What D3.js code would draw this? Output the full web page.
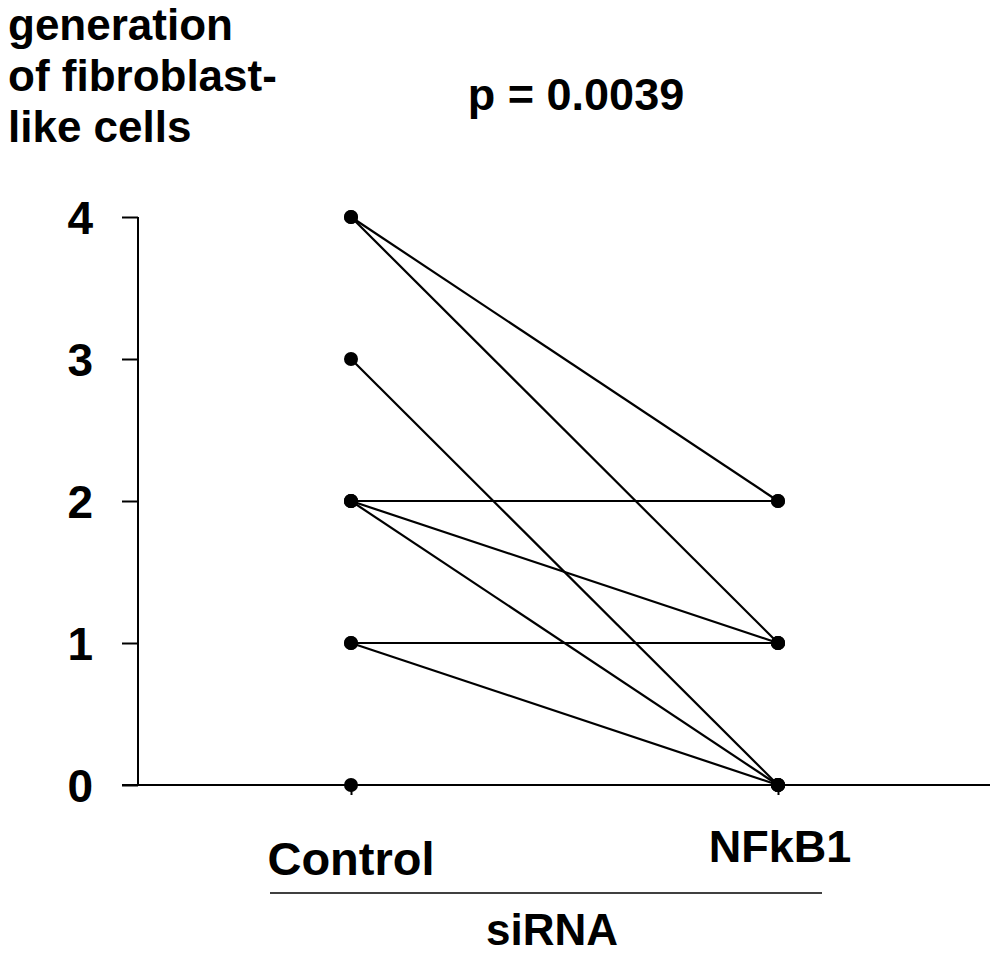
<!DOCTYPE html>
<html><head><meta charset="utf-8">
<script src="https://cdn.jsdelivr.net/npm/d3@7"></script>
<style>body{margin:0;background:#fff}svg{display:block}text{font-family:"Liberation Sans",Arial,sans-serif;font-weight:bold;fill:#000}</style>
</head><body>
<script>
const categories = ["Control", "NFkB1"];
const controlValues = [4, 4, 3, 2, 2, 2, 1, 1, 0];
const nfkb1Values   = [2, 1, 0, 2, 1, 0, 1, 0, 0];
const yTicks = [0, 1, 2, 3, 4];
const titleLines = ["generation", "of fibroblast-", "like cells"];
const pText = "p = 0.0039";
const groupLabel = "siRNA";

const W = 1004, H = 958;
const svg = d3.select("body").append("svg").attr("width", W).attr("height", H);

const y = d3.scaleLinear().domain([0, 4]).range([785, 217]);
const x = d3.scalePoint().domain(categories).range([351, 778]);
const axisX = 138;

// y axis
const yAxis = d3.axisLeft(y).tickValues(yTicks).tickSize(16).tickFormat(d3.format("d"));
const gy = svg.append("g").attr("transform", `translate(${axisX},0)`).call(yAxis);
gy.select(".domain").attr("d", `M0,${y(4)}V${y(0)}`).attr("stroke", "#000").attr("stroke-width", 2);
gy.selectAll(".tick line").attr("stroke", "#000").attr("stroke-width", 2);
gy.selectAll(".tick text").attr("x", -45).attr("dy", "0.36em")
  .style("font-size", "46px").style("font-family", '"Liberation Sans",Arial,sans-serif').style("font-weight", "bold");

// x axis
const xAxis = d3.axisBottom(x).tickSize(10).tickFormat("");
const gx = svg.append("g").attr("transform", `translate(0,${y(0)})`).call(xAxis);
gx.select(".domain").attr("d", `M${axisX - 16},0H990`).attr("stroke", "#000").attr("stroke-width", 2);
gx.selectAll(".tick line").attr("stroke", "#000").attr("stroke-width", 2);

// pair lines
const pairs = controlValues.map((c, i) => ({c, n: nfkb1Values[i]}));
svg.append("g").selectAll("line").data(pairs).join("line")
  .attr("x1", x("Control")).attr("y1", d => y(d.c))
  .attr("x2", x("NFkB1")).attr("y2", d => y(d.n))
  .attr("stroke", "#000").attr("stroke-width", 2.2);

// dots
const pts = [];
pairs.forEach(p => { pts.push({k: "Control", v: p.c}); pts.push({k: "NFkB1", v: p.n}); });
svg.append("g").selectAll("circle").data(pts).join("circle")
  .attr("cx", d => x(d.k)).attr("cy", d => y(d.v)).attr("r", 7).attr("fill", "#000");

// title
svg.append("text").attr("x", 8).attr("y", 40).style("font-size", "44px")
  .selectAll("tspan").data(titleLines).join("tspan")
  .attr("x", 8).attr("dy", (d, i) => i ? 51 : 0).text(d => d);

svg.append("text").attr("x", 576).attr("y", 110).attr("text-anchor", "middle")
  .style("font-size", "45px").text(pText);

// category labels
svg.append("text").attr("x", x("Control")).attr("y", 875).attr("text-anchor", "middle")
  .style("font-size", "47px").text(categories[0]);
svg.append("text").attr("x", x("NFkB1") + 2).attr("y", 862).attr("text-anchor", "middle")
  .style("font-size", "45px").text(categories[1]);

svg.append("line").attr("x1", 270).attr("x2", 822).attr("y1", 893).attr("y2", 893)
  .attr("stroke", "#000").attr("stroke-width", 1.5);
svg.append("text").attr("x", 552).attr("y", 945).attr("text-anchor", "middle")
  .style("font-size", "44px").text(groupLabel);
</script>
</body></html>
